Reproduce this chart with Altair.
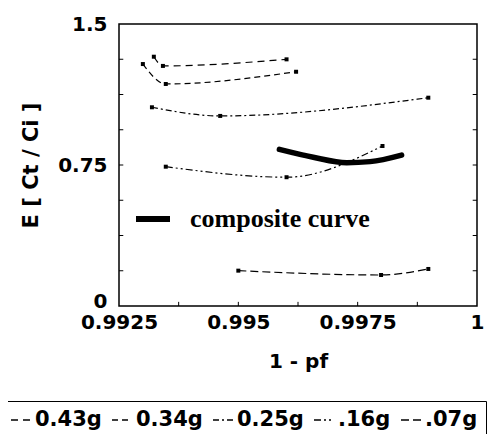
import altair as alt
import pandas as pd

# ---- data ----
series_names = ["0.43g", "0.34g", "0.25g", ".16g", ".07g"]
x_043 = [0.99323, 0.99342, 0.99601]
y_043 = [1.326, 1.277, 1.312]
x_034 = [0.99300, 0.99348, 0.99621]
y_034 = [1.287, 1.181, 1.246]
x_025 = [0.99319, 0.99462, 0.99898]
y_025 = [1.057, 1.011, 1.108]
x_016 = [0.99348, 0.99601, 0.99802]
y_016 = [0.741, 0.685, 0.851]
x_007 = [0.99500, 0.99799, 0.99898]
y_007 = [0.188, 0.165, 0.197]

comp_name = "composite curve"
comp_x = [0.99586, 0.99657, 0.99727, 0.99776, 0.99842]
comp_y = [0.833, 0.791, 0.762, 0.768, 0.803]

x_tick_labels = [0.9925, 0.995, 0.9975, 1.0]
y_tick_labels = [0, 0.75, 1.5]
x_minor = [0.99375, 0.995, 0.99625, 0.9975, 0.99875]
y_minor = [0.1875, 0.375, 0.5625, 0.75, 0.9375, 1.125, 1.3125]

# ---- tables ----
xs = [x_043, x_034, x_025, x_016, x_007]
ys = [y_043, y_034, y_025, y_016, y_007]
rows = []
for name, xx, yy in zip(series_names, xs, ys):
    for a, b in zip(xx, yy):
        rows.append({"x": a, "y": b, "s": name})
df = pd.DataFrame(rows)
comp = pd.DataFrame({"x": comp_x, "y": comp_y, "name": comp_name})
xt = pd.DataFrame({"v": x_minor})
yt = pd.DataFrame({"v": y_minor})

FONT = "DejaVu Sans"
xscale = alt.Scale(domain=[0.9925, 1.0], nice=False, zero=False)
yscale = alt.Scale(domain=[0, 1.5], nice=False, zero=True)
xaxis = alt.Axis(values=x_tick_labels, format=".4~f", grid=False, domain=False,
                 ticks=False, labelPadding=6, labelFont=FONT, labelFontSize=20,
                 labelFontWeight="bold", labelColor="black", titleFont=FONT,
                 titleFontSize=20, titleFontWeight="bold", titleColor="black",
                 titlePadding=19, labelFlush=False)
yaxis = alt.Axis(values=y_tick_labels, format=".2~f", grid=False, domain=False,
                 ticks=False, labelPadding=12, labelFont=FONT, labelFontSize=20,
                 labelFontWeight="bold", labelColor="black", titleFont=FONT,
                 titleFontSize=21, titleFontWeight="bold", titleColor="black",
                 titlePadding=16, labelFlush=False,
                 labelOffset={"condition": {"test": "datum.value == 0", "value": -5}, "value": 0})
X = lambda f="x": alt.X(f"{f}:Q", scale=xscale, axis=xaxis, title="1 - pf")
Y = lambda f="y": alt.Y(f"{f}:Q", scale=yscale, axis=yaxis, title="E [ Ct / Ci ]")

dashes = [[7, 5], [6, 4], [6, 3, 2, 3], [7, 3, 2, 3, 2, 3], [8, 4]]

lines = alt.Chart(df).mark_line(strokeWidth=1.2, color="black", interpolate="monotone").encode(
    x=X(), y=Y(),
    strokeDash=alt.StrokeDash(
        "s:N",
        scale=alt.Scale(domain=series_names, range=dashes),
        sort=series_names,
        legend=alt.Legend(
            title=None, orient="none", direction="horizontal",
            legendX=-117, legendY=377, padding=8, strokeColor="black",
            symbolType="stroke", symbolSize=400, symbolStrokeWidth=1.5,
            symbolStrokeColor="black", labelFont=FONT, labelFontSize=21,
            labelFontWeight="bold", labelColor="black", labelOffset=3,
            columnPadding=7, labelLimit=200,
        ),
    ),
)
points = alt.Chart(df).mark_point(filled=True, color="black", size=16, shape="square", opacity=1).encode(
    x=X(), y=Y(), detail="s:N"
)
composite = alt.Chart(comp).mark_line(strokeWidth=5.5, strokeCap="round", interpolate="monotone").encode(
    x=X(), y=Y(),
    color=alt.Color(
        "name:N",
        scale=alt.Scale(range=["black"]),
        legend=alt.Legend(
            title=None, orient="none", legendX=14, legendY=175, padding=0,
            symbolType="stroke", symbolSize=1156, symbolStrokeWidth=6,
            labelFont="Liberation Serif", labelFontSize=26, labelFontWeight="bold",
            labelColor="black", labelOffset=17, labelLimit=300,
        ),
    ),
)
xticks = alt.Chart(xt).mark_rule(color="black", strokeWidth=1).encode(
    x=X("v"), y=alt.datum(0), y2=alt.datum(0.022)
)
yticks_l = alt.Chart(yt).mark_rule(color="black", strokeWidth=1).encode(
    y=Y("v"), x=alt.datum(0.9925), x2=alt.datum(0.99259)
)
yticks_r = alt.Chart(yt).mark_rule(color="black", strokeWidth=1).encode(
    y=Y("v"), x=alt.datum(1.0), x2=alt.datum(0.99991)
)

chart = alt.layer(lines, points, composite, xticks, yticks_l, yticks_r).properties(
    width=358, height=282,
    autosize=alt.AutoSizeParams(type="none"),
    padding={"left": 111, "top": 16, "right": 10, "bottom": 128},
).configure_view(stroke="black", strokeWidth=1.5)

chart.save("out.html", embed_options={"renderer": "svg", "actions": False})
